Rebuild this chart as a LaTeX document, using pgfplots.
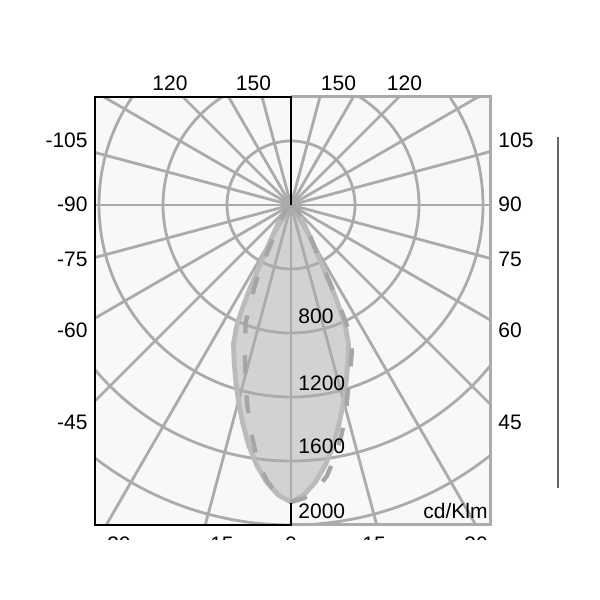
\documentclass[border=0pt]{standalone}
\usepackage{pgfplots}
\usepackage{pgfplotstable}
\pgfplotsset{compat=1.18}
\usepackage{fontspec}
\setmainfont{Liberation Sans}
\definecolor{gridc}{HTML}{ABABAB}
\definecolor{boxbg}{HTML}{F8F8F8}
\definecolor{lobefill}{HTML}{D2D2D2}
\definecolor{lobeline}{HTML}{BBBBBB}
\definecolor{dashc}{HTML}{A6A6A6}

% gamma (deg from nadir), intensity (cd/klm)
\pgfplotstableread{
g I
-90 0
-70 8
-55 20
-45 45
-40 75
-36 116
-33 170
-30 260
-28 360
-27 460
-26 610
-25 740
-24 840
-22.5 940
-20 1040
-17.5 1150
-15 1270
-12.5 1395
-10 1525
-7.5 1640
-5 1740
-2.5 1815
0 1856
2.5 1815
5 1740
7.5 1640
10 1525
12.5 1395
15 1270
17.5 1150
20 1040
22.5 940
24 840
25 740
26 610
27 460
28 360
30 260
33 170
36 116
40 75
45 45
55 20
70 8
90 0
}\solidtab

\pgfplotstableread{
g I
-90 0
-60 20
-45 50
-40 70
-35 110
-32 140
-30 175
-28 240
-27 300
-26 400
-25 490
-24 560
-22.5 680
-21 790
-19 880
-17.5 960
-16 1040
-15 1110
-12.5 1270
-10 1440
-7.5 1610
-5 1730
-2.5 1815
0 1856
2.5 1835
5 1785
7.5 1710
10 1595
12.5 1465
15 1330
17.5 1190
20 1085
22.5 995
24 910
25 820
26 650
27 480
28 370
30 270
33 200
37 140
45 60
60 20
90 0
}\dashtab

\begin{document}
\begin{tikzpicture}
\path[use as bounding box] (0,0) rectangle (300pt,300pt);
\begin{axis}[
  at={(47.5pt,37.5pt)}, anchor=south west,
  x=0.08pt, y=0.08pt,
  xmin=-1225, xmax=1243.75, ymin=-2000, ymax=675,
  xtick=\empty, ytick=\empty,
  axis line style={draw=none},
  axis background/.style={fill=boxbg},
  clip=true,
]
\addplot[fill=lobefill, draw=none]
  table[x expr={\thisrow{I}*sin(\thisrow{g})}, y expr={-\thisrow{I}*cos(\thisrow{g})}] {\solidtab};
\pgfplotsinvokeforeach{400,800,1200,1600,2000,2400}{
  \draw[gridc, line width=1.4pt] (axis cs:0,0) circle[radius=#1];
}
\pgfplotsinvokeforeach{0,15,...,345}{
  \draw[gridc, line width=1.4pt] (axis cs:0,0) -- (axis cs:{3000*cos(#1)},{3000*sin(#1)});
}
\addplot[lobeline, line width=2.4pt, line join=round]
  table[x expr={\thisrow{I}*sin(\thisrow{g})}, y expr={-\thisrow{I}*cos(\thisrow{g})}] {\solidtab};
\addplot[dashc, line width=2.2pt, dash pattern=on 9pt off 11pt]
  table[x expr={\thisrow{I}*sin(\thisrow{g})}, y expr={-\thisrow{I}*cos(\thisrow{g})}] {\dashtab};
\end{axis}

\begin{scope}[x=0.5pt, y=-0.5pt, yshift=300pt, every node/.style={inner sep=0pt, font=\fontsize{10.5}{12}\selectfont}]
\draw[gridc, line width=1.5pt] (291,97) -- (490,97) -- (490,525) -- (291,525);
\draw[black, line width=1.4pt] (291,205) -- (291,97) -- (95,97) -- (95,525) -- (291,525) -- (291,503);
\draw[black!60, line width=0.8pt] (558,137) -- (558,488);
% top labels
\node at (170,83.5) {120};
\node at (253.5,83.5) {150};
\node at (338.5,83.5) {150};
\node at (404.5,83.5) {120};
% left labels
\node[anchor=east] at (88,140.5) {-105};
\node[anchor=east] at (88,204.5) {-90};
\node[anchor=east] at (88,259.5) {-75};
\node[anchor=east] at (88,330) {-60};
\node[anchor=east] at (88,422) {-45};
% right labels
\node[anchor=west] at (498,140.5) {105};
\node[anchor=west] at (498,204.5) {90};
\node[anchor=west] at (498,259.5) {75};
\node[anchor=west] at (498,330) {60};
\node[anchor=west] at (498,422) {45};
% intensity labels
\node[anchor=west] at (298,316.5) {800};
\node[anchor=west] at (298,383.5) {1200};
\node[anchor=west] at (298,446.5) {1600};
\node[anchor=west] at (298,511.5) {2000};
\node[anchor=east] at (488,511) {cd/Klm};
% clipped bottom labels
\begin{scope}
\clip (0,0) rectangle (600,540);
\node at (119,544.5) {30};
\node at (222,544.5) {15};
\node at (291,544.5) {0};
\node at (374,544.5) {15};
\node at (476,544.5) {30};
\end{scope}
\end{scope}
\end{tikzpicture}
\end{document}
